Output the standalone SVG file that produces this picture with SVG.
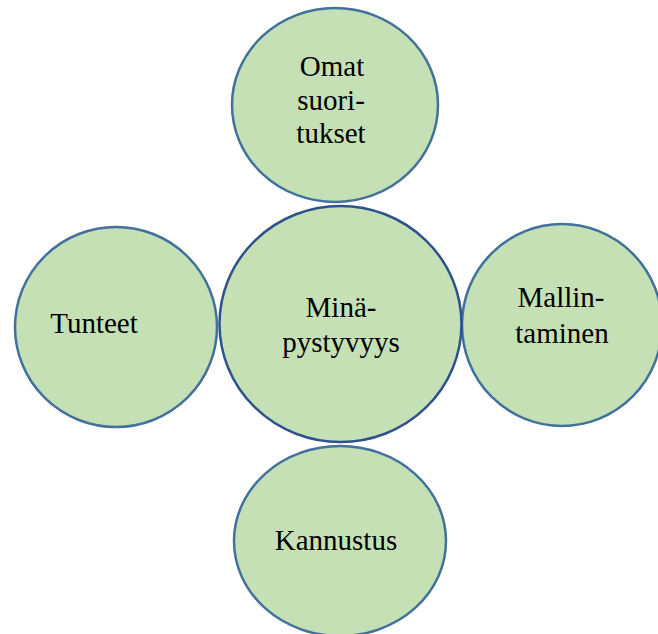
<svg xmlns="http://www.w3.org/2000/svg" width="658" height="634" viewBox="0 0 658 634">
<style>
.n{fill:#C5E0B4;stroke:#41719C;stroke-width:2.5}
.c{fill:#C5E0B4;stroke:#2F528F;stroke-width:2.5}
.t{font-family:'Liberation Serif','Times New Roman','DejaVu Serif',serif;font-size:29px;fill:#000;text-anchor:middle}
</style>
<rect width="658" height="634" fill="#fff"/>
<g id="connectors"></g>
<g id="omat">
<ellipse class="n" cx="335" cy="105" rx="103" ry="97"/>
<text class="t" x="332" y="76">Omat</text>
<text class="t" x="331" y="110">suori-</text>
<text class="t" x="331" y="143">tukset</text>
</g>
<g id="tunteet">
<ellipse class="n" cx="116" cy="327" rx="101" ry="100"/>
<text class="t" x="94" y="333">Tunteet</text>
</g>
<g id="mallintaminen">
<ellipse class="n" cx="562" cy="325" rx="100" ry="101"/>
<text class="t" x="561" y="307">Mallin-</text>
<text class="t" x="562" y="343">taminen</text>
</g>
<g id="kannustus">
<ellipse class="n" cx="340" cy="541" rx="106" ry="95"/>
<text class="t" x="336" y="550">Kannustus</text>
</g>
<g id="minapystyvyys">
<ellipse class="c" cx="340.5" cy="324" rx="121" ry="118"/>
<text class="t" x="341" y="317">Minä-</text>
<text class="t" x="341" y="352">pystyvyys</text>
</g>
</svg>
